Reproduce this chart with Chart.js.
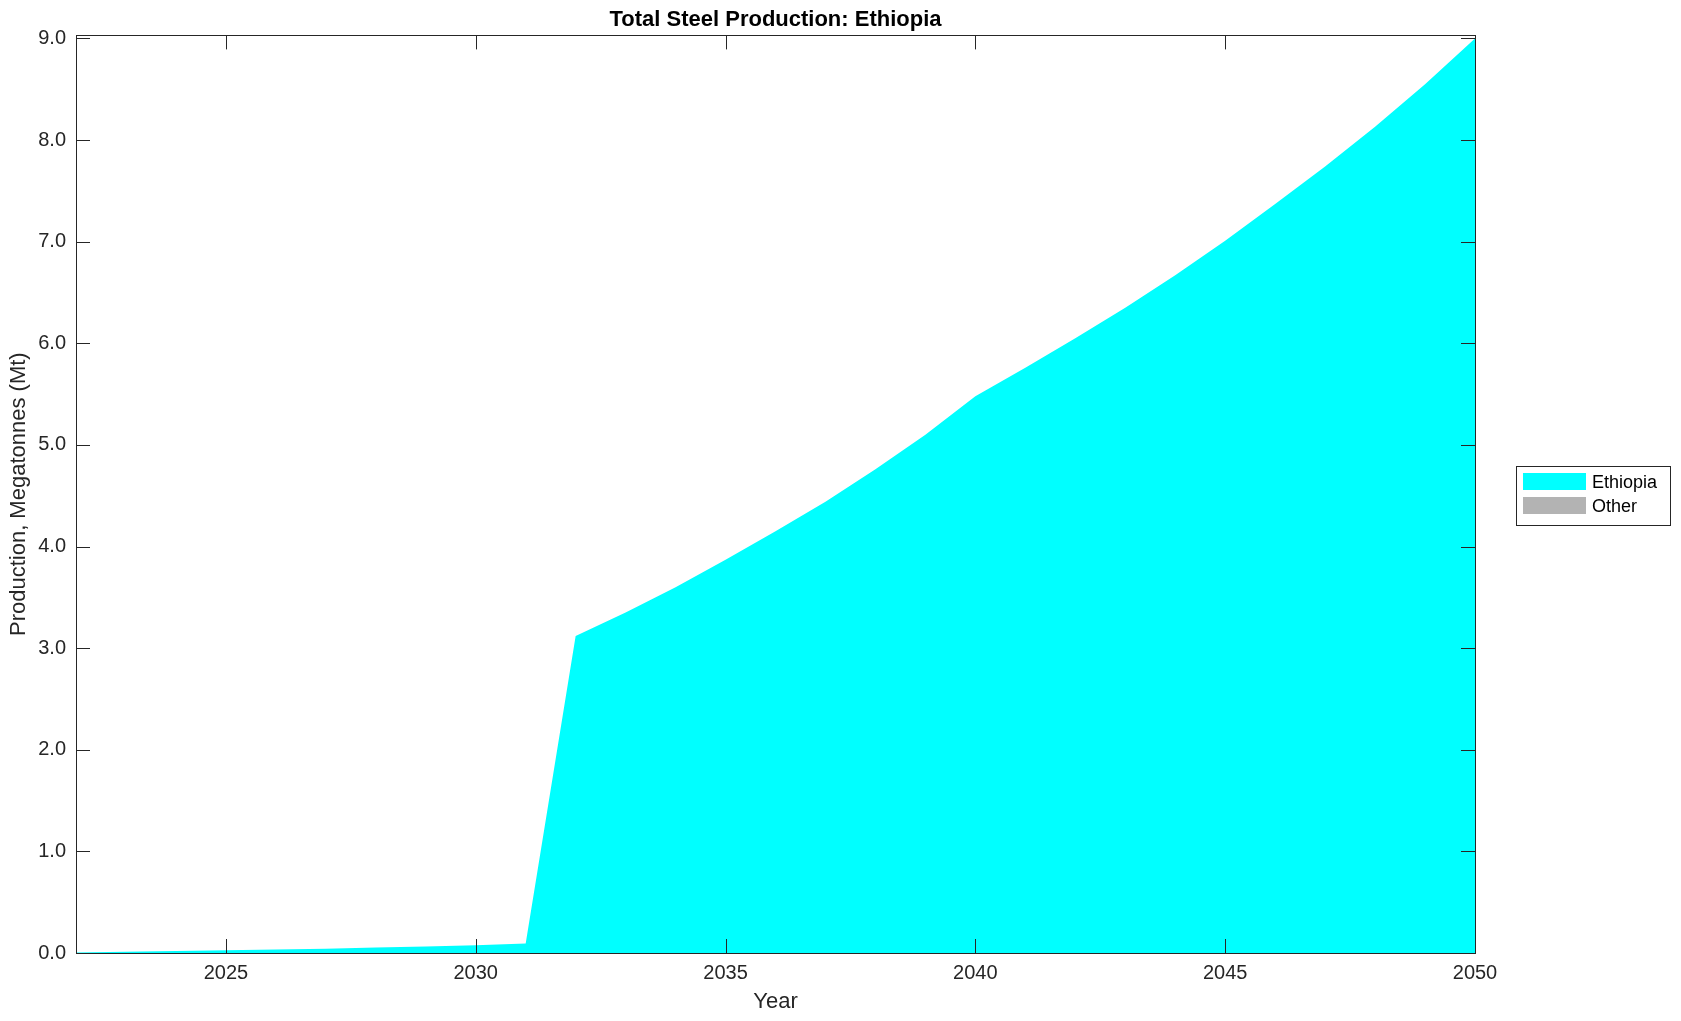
<!DOCTYPE html>
<html>
<head>
<meta charset="utf-8">
<title>Total Steel Production: Ethiopia</title>
<script src="https://cdn.jsdelivr.net/npm/chart.js@4.4.0/dist/chart.umd.min.js"></script>
<style>
  html, body { margin: 0; padding: 0; background: #fff; }
  #wrap { width: 1681px; height: 1021px; position: relative; }
</style>
</head>
<body>
<div id="wrap"><canvas id="steelChart"></canvas></div>
<script>
// years on the x axis
const years = [2022, 2023, 2024, 2025, 2026, 2027, 2028, 2029, 2030, 2031,
               2032, 2033, 2034, 2035, 2036, 2037, 2038, 2039, 2040, 2041,
               2042, 2043, 2044, 2045, 2046, 2047, 2048, 2049, 2050];
// production in Mt
const ethiopia = [0.006, 0.012, 0.019, 0.026, 0.034, 0.043, 0.053, 0.064, 0.077, 0.094,
                  3.12, 3.35, 3.60, 3.87, 4.15, 4.44, 4.76, 5.10, 5.48, 5.76,
                  6.05, 6.35, 6.67, 7.01, 7.37, 7.74, 8.13, 8.55, 9.00];
const other = [0, 0, 0, 0, 0, 0, 0, 0, 0, 0,
               0, 0, 0, 0, 0, 0, 0, 0, 0, 0,
               0, 0, 0, 0, 0, 0, 0, 0, 0];
const xTicks = [2025, 2030, 2035, 2040, 2045, 2050];
const yTicks = [0, 1, 2, 3, 4, 5, 6, 7, 8, 9];

const fontFam = "'Liberation Sans', Arial, Helvetica, sans-serif";
const axisCol = '#262626';

// box round the plot + inward ticks on all sides (matlab look)
const frame = {
  id: 'frame',
  afterDatasetsDraw(chart) {
    const ctx = chart.ctx;
    const a = chart.chartArea;
    const x = chart.scales.x, y = chart.scales.y;
    const len = 14;
    ctx.save();
    ctx.strokeStyle = axisCol;
    ctx.lineWidth = 1;
    ctx.beginPath();
    x.ticks.forEach(t => {
      const px = Math.round(x.getPixelForValue(t.value)) + 0.5;
      ctx.moveTo(px, a.bottom); ctx.lineTo(px, a.bottom - len);
      ctx.moveTo(px, a.top); ctx.lineTo(px, a.top + len);
    });
    y.ticks.forEach(t => {
      const py = Math.round(y.getPixelForValue(t.value)) + 0.5;
      ctx.moveTo(a.left, py); ctx.lineTo(a.left + len, py);
      ctx.moveTo(a.right, py); ctx.lineTo(a.right - len, py);
    });
    ctx.stroke();
    ctx.strokeRect(Math.round(a.left) + 0.5, Math.round(a.top) + 0.5,
                   Math.round(a.right - a.left), Math.round(a.bottom - a.top));
    ctx.restore();
  }
};

// legend box to the right of the axes
const boxLegend = {
  id: 'boxLegend',
  afterDraw(chart) {
    const ctx = chart.ctx;
    const a = chart.chartArea;
    const w = 154, rowH = 24;
    const sets = chart.data.datasets;
    const h = 14 + rowH * sets.length - 3;
    const left = Math.round(a.right) + 41;
    const top = Math.round((a.top + a.bottom) / 2 - h / 2) + 1;
    ctx.save();
    ctx.fillStyle = '#fff';
    ctx.fillRect(left, top, w, h);
    ctx.strokeStyle = axisCol;
    ctx.lineWidth = 1;
    ctx.strokeRect(left + 0.5, top + 0.5, w, h);
    ctx.font = '18px ' + fontFam;
    ctx.textBaseline = 'middle';
    sets.forEach((ds, i) => {
      const ry = top + 7 + i * rowH;
      ctx.fillStyle = ds.backgroundColor;
      ctx.fillRect(left + 7, ry, 63, 17);
      ctx.fillStyle = '#000';
      ctx.fillText(ds.label, left + 76, ry + 10);
    });
    ctx.restore();
  }
};

new Chart('steelChart', {
  type: 'line',
  data: {
    datasets: [{
      label: 'Ethiopia',
      data: ethiopia.map((v, i) => ({x: years[i], y: v})),
      backgroundColor: '#00ffff',
      borderColor: 'rgba(0,0,0,0)',
      borderWidth: 0,
      pointRadius: 0,
      tension: 0,
      fill: 'origin'
    }, {
      label: 'Other',
      data: other.map((v, i) => ({x: years[i], y: v})),
      backgroundColor: '#b3b3b3',
      borderColor: 'rgba(0,0,0,0)',
      borderWidth: 0,
      pointRadius: 0,
      tension: 0,
      fill: '-1'
    }]
  },
  options: {
    responsive: true,
    maintainAspectRatio: false,
    animation: false,
    layout: { padding: { left: 0, right: 206, top: 0, bottom: 0 } },
    plugins: {
      legend: { display: false },
      tooltip: { enabled: false },
      title: {
        display: true,
        text: 'Total Steel Production: Ethiopia',
        fullSize: false,
        color: '#000',
        font: { family: fontFam, size: 22, weight: 'bold' },
        padding: { top: 7, bottom: 2 }
      }
    },
    scales: {
      x: {
        type: 'linear',
        min: 2022,
        max: 2050,
        grid: { display: false, drawTicks: false },
        border: { display: false },
        afterBuildTicks: s => { s.ticks = xTicks.map(v => ({value: v})); },
        afterFit: s => { s.height = 68; },
        ticks: {
          color: axisCol,
          font: { family: fontFam, size: 20 },
          padding: 8,
          maxRotation: 0,
          callback: v => String(v)
        },
        title: {
          display: true,
          text: 'Year',
          color: axisCol,
          font: { family: fontFam, size: 22 },
          padding: { top: 0, bottom: 6 }
        }
      },
      y: {
        stacked: true,
        min: 0,
        max: 9.03,
        grid: { display: false, drawTicks: false },
        border: { display: false },
        afterBuildTicks: s => { s.ticks = yTicks.map(v => ({value: v})); },
        afterFit: s => { s.width = 76; },
        ticks: {
          color: axisCol,
          font: { family: fontFam, size: 20 },
          padding: 10,
          callback: v => Number(v).toFixed(1)
        },
        title: {
          display: true,
          text: 'Production, Megatonnes (Mt)',
          color: axisCol,
          font: { family: fontFam, size: 22 },
          padding: { top: 6, bottom: 6 }
        }
      }
    }
  },
  plugins: [frame, boxLegend]
});
</script>
</body>
</html>
